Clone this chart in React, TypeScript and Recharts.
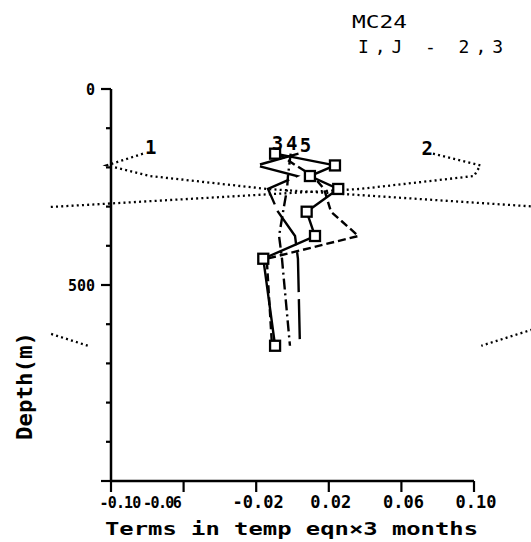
import { LineChart, Line, XAxis, YAxis } from 'recharts';

// depth levels (m) shared by all terms
const depths = [165, 195, 222, 255, 313, 375, 433, 655];

// terms in the temperature equation x 3 months
const term1 = [-0.0824, -0.1024, -0.0785, -0.014, 0.176, 0.27, 0.255, 0.104];
const term2 = [0.0774, 0.1035, 0.1, 0.0372, -0.178, -0.27, -0.262, -0.1127];
const term3 = [-0.0096, 0.0234, 0.0096, 0.0252, 0.0078, 0.0124, -0.0161, -0.0096];
const term4 = [-0.001, -0.0018, -0.0025, -0.003, -0.0052, -0.0074, -0.0058, -0.0014];
const term5 = [0.0033, -0.0198, 0.0025, -0.0135, -0.008, 0.0014, 0.003, 0.0041];
const termSum = [-0.008, 0.0019, 0.0113, 0.0174, 0.0212, 0.0363, -0.0142, -0.0113];

const xTicks = [-0.1, -0.06, -0.02, 0.02, 0.06, 0.1];
const depthTicks = [0, 100, 200, 300, 400, 500, 600, 700, 800, 900, 1000];
const depthLabels = [0, 500];

const rows = depths.map((depth, i) => ({
  depth,
  t1: term1[i],
  t2: term2[i],
  t3: term3[i],
  t4: term4[i],
  t5: term5[i],
  sum: termSum[i],
}));

// page layout (px)
const W = 531;
const H = 542;
const TOP = 89;
const BOTTOM = 481;
const LEFT = 111;
const RIGHT = 474;
const CLIP_LEFT = 50;
const perPx = 0.2 / (RIGHT - LEFT);
const wideDomain = [-0.1 - (LEFT - CLIP_LEFT) * perPx, 0.1 + (W - RIGHT) * perPx];

const FONT = '"DejaVu Sans Mono", monospace';

function XTick({ x, y, payload }: any) {
  const v = payload.value;
  let shift = 2;
  let spacing = 0;
  let size = 17;
  // the two leftmost labels are pushed apart and tightened so they don't collide
  if (Math.abs(v + 0.1) < 1e-6) { shift = 9; spacing = -0.8; size = 15; }
  if (Math.abs(v + 0.06) < 1e-6) { shift = -22; spacing = -1.6; size = 15; }
  return (
    <g>
      <line x1={x} y1={y} x2={x} y2={y + 11} stroke="#000" strokeWidth={2.2} />
      <text
        x={x + shift}
        y={y + 27}
        textAnchor="middle"
        fontFamily={FONT}
        fontWeight="bold"
        fontSize={size}
        letterSpacing={spacing}
        fill="#000"
      >
        {v.toFixed(2)}
      </text>
    </g>
  );
}

function YTick({ x, y, payload }: any) {
  const d = payload.value;
  const major = d % 500 === 0;
  return (
    <g>
      <line x1={x} y1={y} x2={x - (major ? 10 : 5)} y2={y} stroke="#000" strokeWidth={2.2} />
      {depthLabels.includes(d) && (
        <text x={x - 16} y={y + 5.5} textAnchor="end" fontFamily={FONT} fontWeight="bold" fontSize={15} fill="#000">
          {d}
        </text>
      )}
    </g>
  );
}

// number written next to the first point of a profile
const startLabel = (text: string, dx: number, dy: number, anchor: string) => (props: any) => {
  if (props.index !== 0) return null;
  const px = props.viewBox?.x ?? props.x;
  const py = props.viewBox?.y ?? props.y;
  return (
    <text
      key={`lbl-${text}`}
      x={px + dx}
      y={py + dy}
      textAnchor={anchor}
      fontFamily={FONT}
      fontWeight="bold"
      fontSize={19}
      fill="#000"
    >
      {text}
    </text>
  );
};

const SquareDot = (props: any) => {
  const { cx, cy, index } = props;
  return <rect key={`sq-${index}`} x={cx - 5} y={cy - 5} width={10} height={10} fill="#fff" stroke="#000" strokeWidth={2.3} />;
};

export default function App() {
  return (
    <div style={{ position: 'absolute', left: 0, top: 0, width: W, height: H, background: '#fff', overflow: 'hidden' }}>
      {/* the two large terms run far past the axes, so they sit on a wider hidden scale */}
      <div style={{ position: 'absolute', left: 0, top: 0 }}>
        <LineChart layout="vertical" width={W} height={H} data={rows} margin={{ top: TOP, bottom: H - BOTTOM, left: CLIP_LEFT, right: 0 }}>
          <XAxis hide type="number" domain={wideDomain} allowDataOverflow />
          <YAxis hide type="number" dataKey="depth" domain={[0, 1000]} />
          <Line type="linear" dataKey="t1" stroke="#000" strokeWidth={2.3} strokeDasharray="2 3.2" dot={false} isAnimationActive={false} label={startLabel('1', 2, 0, 'start')} />
          <Line type="linear" dataKey="t2" stroke="#000" strokeWidth={2.3} strokeDasharray="2 3.2" dot={false} isAnimationActive={false} label={startLabel('2', 0, 1.5, 'end')} />
        </LineChart>
      </div>
      <div style={{ position: 'absolute', left: 0, top: 0 }}>
        <LineChart layout="vertical" width={W} height={H} data={rows} margin={{ top: TOP, bottom: H - BOTTOM - 40, left: LEFT - 40, right: W - RIGHT }}>
          <XAxis
            type="number"
            domain={[-0.1, 0.1]}
            ticks={xTicks}
            interval={0}
            height={40}
            tickSize={0}
            tickMargin={0}
            tickLine={false}
            axisLine={{ stroke: '#000', strokeWidth: 2.5 }}
            tick={(p: any) => <XTick {...p} />}
          />
          <YAxis
            type="number"
            dataKey="depth"
            domain={[0, 1000]}
            ticks={depthTicks}
            interval={0}
            width={40}
            tickSize={0}
            tickMargin={0}
            tickLine={false}
            axisLine={{ stroke: '#000', strokeWidth: 2.5 }}
            tick={(p: any) => <YTick {...p} />}
          />
          <Line type="linear" dataKey="sum" stroke="#000" strokeWidth={2.4} strokeDasharray="8 4" dot={false} isAnimationActive={false} />
          <Line type="linear" dataKey="t4" stroke="#000" strokeWidth={2.4} strokeDasharray="11 4 2 4" dot={false} isAnimationActive={false} label={startLabel('4', 1, -4, 'middle')} />
          <Line type="linear" dataKey="t5" stroke="#000" strokeWidth={2.4} strokeDasharray="40 7" dot={false} isAnimationActive={false} label={startLabel('5', 7, -2, 'middle')} />
          <Line type="linear" dataKey="t3" stroke="#000" strokeWidth={2.4} dot={SquareDot} isAnimationActive={false} label={startLabel('3', 2.5, -4, 'middle')} />
        </LineChart>
      </div>
      <svg width={W} height={H} style={{ position: 'absolute', left: 0, top: 0, pointerEvents: 'none' }}>
        <text x={352} y={28} fontFamily={FONT} fontSize={18} textLength={55} lengthAdjust="spacingAndGlyphs" fill="#000">MC24</text>
        <text x={358} y={53} fontFamily={FONT} fontSize={18} textLength={145} lengthAdjust="spacing" fill="#000">I,J - 2,3</text>
        <text x={105} y={535} fontFamily={FONT} fontWeight="bold" fontSize={18} textLength={373} lengthAdjust="spacingAndGlyphs" fill="#000">
          Terms in temp eqn×3 months
        </text>
        <text
          transform="translate(32,386) rotate(-90)"
          textAnchor="middle"
          fontFamily={FONT}
          fontWeight="bold"
          fontSize={21}
          textLength={108}
          lengthAdjust="spacingAndGlyphs"
          fill="#000"
        >
          Depth(m)
        </text>
      </svg>
    </div>
  );
}
